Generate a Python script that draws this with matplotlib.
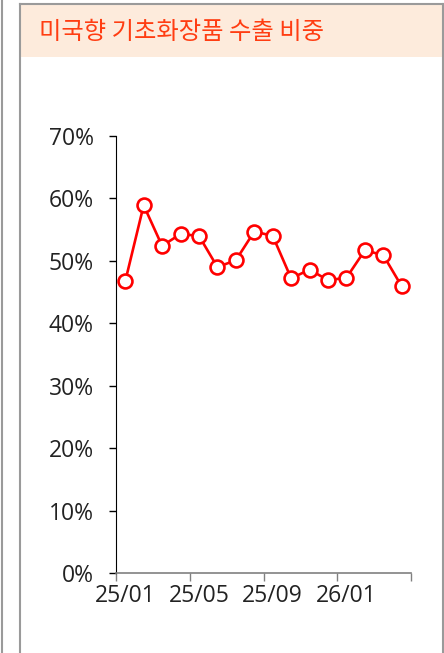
import matplotlib
matplotlib.use("Agg")
import matplotlib.pyplot as plt
from matplotlib.patches import Rectangle
from matplotlib.lines import Line2D
import numpy as np

plt.rcParams['font.family'] = ['Open Sans', 'Noto Sans CJK KR', 'DejaVu Sans']

# Data: share of US-bound skincare exports (monthly, 25/01 - 26/04)
months = ['25/01', '25/02', '25/03', '25/04', '25/05', '25/06', '25/07', '25/08',
          '25/09', '25/10', '25/11', '25/12', '26/01', '26/02', '26/03', '26/04']
share = [46.7, 58.9, 52.4, 54.3, 54.0, 49.0, 50.1, 54.7,
         54.0, 47.2, 48.6, 46.9, 47.3, 51.7, 50.9, 45.9]
yticks = [0, 10, 20, 30, 40, 50, 60, 70]
title = '미국향 기초화장품 수출 비중'

W, H = 444, 653
fig = plt.figure(figsize=(W / 100, H / 100), dpi=100)


def fx(px):
    return px / W


def fy(py):
    return 1 - py / H


# panel frame
border = '#9a9a9a'
fig.add_artist(Line2D([fx(1.5), fx(1.5)], [0, 1], color=border, lw=1.5))
fig.add_artist(Line2D([fx(19.5), fx(19.5)], [0, fy(4)], color=border, lw=1.5))
fig.add_artist(Line2D([fx(442.5), fx(442.5)], [0, fy(4)], color=border, lw=1.5))
fig.add_artist(Line2D([fx(19.5), fx(442.5)], [fy(4), fy(4)], color=border, lw=1.5))
fig.add_artist(Rectangle((fx(20.5), fy(57)), fx(421), fy(5) - fy(57),
                         facecolor='#fdebdc', edgecolor='none'))
fig.text(fx(39), fy(32), title, color='#ff3d12', fontsize=17.5, va='center', ha='left',
         family=['Noto Sans CJK KR', 'DejaVu Sans'])

ax = fig.add_axes([fx(116), fy(573), fx(411) - fx(116), fy(136) - fy(573)])
x = np.arange(len(months))
ax.plot(x, share, color='#ff0000', lw=1.9, marker='o', markersize=10,
        markerfacecolor='white', markeredgecolor='#ff0000', markeredgewidth=1.9,
        zorder=3, clip_on=False)

ax.set_xlim(-0.5, len(months) - 0.5)
ax.set_ylim(0, 70)
ax.set_yticks(yticks)
ax.set_yticklabels([f'{v}%' for v in yticks])
ax.set_xticks(np.arange(-0.5, len(months), 4))
ax.set_xticklabels([])
ax.set_xticks(x[::4], minor=True)
ax.set_xticklabels([months[i] for i in x[::4]], minor=True)
ax.tick_params(axis='x', which='minor', length=0, pad=8, labelsize=16.5, labelcolor='#222222')
ax.tick_params(axis='x', which='major', length=6, width=1, color='#808080')
ax.tick_params(axis='y', length=5, width=1, pad=11, labelsize=16.5, labelcolor='#222222')

for s in ['top', 'right']:
    ax.spines[s].set_visible(False)
ax.spines['left'].set_color('black')
ax.spines['bottom'].set_color('#808080')
ax.spines['bottom'].set_linewidth(1.2)

fig.savefig('out.png', dpi=100)
